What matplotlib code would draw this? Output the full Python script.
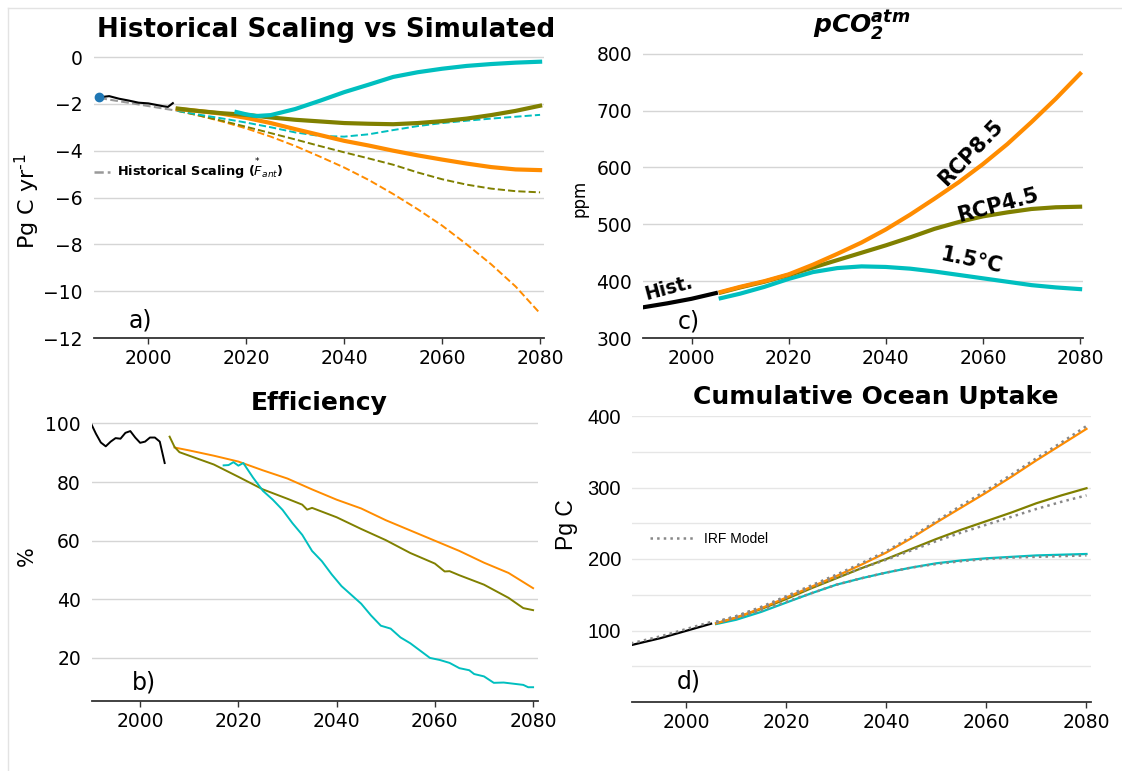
import matplotlib
matplotlib.use('Agg')
import matplotlib.pyplot as plt
from matplotlib.lines import Line2D

# ---- colours
ORANGE = '#ff8c00'
OLIVE = '#808000'
CYAN = '#00bfbf'

# ---- a) ocean flux, Pg C / yr
flux_hist_years = [1990, 1992, 1994, 1996, 1998, 2000, 2002, 2003, 2004, 2005]
flux_hist = [-1.72, -1.67, -1.78, -1.86, -1.95, -1.98, -2.06, -2.1, -2.13, -1.97]
scaling_hist_years = [1990, 2006]
scaling_hist = [-1.75, -2.3]
start_point = (1990, -1.72)

proj_years = [2006, 2010, 2015, 2020, 2025, 2030, 2035, 2040,
              2045, 2050, 2055, 2060, 2065, 2070, 2075, 2080]
flux_rcp45 = [-2.2, -2.3, -2.4, -2.47, -2.58, -2.68, -2.75, -2.82,
              -2.85, -2.87, -2.82, -2.74, -2.63, -2.48, -2.3, -2.08]
flux_rcp85 = [-2.22, -2.3, -2.42, -2.6, -2.82, -3.08, -3.33, -3.58,
              -3.78, -4.0, -4.2, -4.38, -4.55, -4.7, -4.8, -4.83]
flux_15_years = [2018, 2020, 2022, 2025, 2030, 2035, 2040, 2045,
                 2050, 2055, 2060, 2065, 2070, 2075, 2080]
flux_15 = [-2.35, -2.45, -2.52, -2.48, -2.22, -1.87, -1.5, -1.18,
           -0.85, -0.65, -0.5, -0.38, -0.3, -0.24, -0.2]
scal_rcp85 = [-2.3, -2.48, -2.75, -3.05, -3.4, -3.8, -4.25, -4.72,
              -5.25, -5.85, -6.5, -7.2, -8.0, -8.85, -9.8, -10.95]
scal_rcp45 = [-2.3, -2.48, -2.72, -2.98, -3.25, -3.52, -3.8, -4.07,
              -4.33, -4.6, -4.93, -5.22, -5.45, -5.62, -5.73, -5.78]
scal_15 = [-2.3, -2.45, -2.62, -2.8, -3.0, -3.22, -3.37, -3.4,
           -3.3, -3.12, -2.95, -2.82, -2.72, -2.63, -2.55, -2.47]

# ---- c) atmospheric pCO2, ppm
pco2_hist_years = [1990, 1995, 2000, 2005]
pco2_hist = [354, 361, 369, 379]
pco2_rcp85 = [381, 390, 400, 412, 429, 448, 468, 491,
              517, 545, 574, 606, 641, 680, 721, 765]
pco2_rcp45 = [380, 389, 399, 411, 424, 437, 450, 463,
              477, 492, 504, 514, 521, 527, 530, 531]
pco2_15 = [370, 378, 390, 404, 416, 423, 426, 425,
           422, 417, 411, 405, 399, 393, 389, 386]

# ---- b) efficiency, %
eff_hist_years = list(range(1990, 2006))
eff_hist = [100, 96.5, 93.5, 92.2, 93.8, 95, 94.8, 96.8,
            97.4, 95.2, 93.4, 93.8, 95.2, 95.2, 93.8, 86.5]
eff_rcp45_years = [2006, 2007, 2008, 2010, 2015, 2020, 2025, 2030, 2033,
                   2034, 2035, 2040, 2045, 2050, 2055, 2060, 2062, 2063,
                   2065, 2070, 2075, 2078, 2080]
eff_rcp45 = [95.5, 92, 90.2, 89, 86, 81.8, 77.5, 74.3, 72.3,
             70.6, 71.2, 68, 64, 60.2, 55.8, 52.2, 49.5, 49.6,
             48.2, 45, 40.5, 37, 36.3]
eff_rcp85_years = [2007, 2010, 2015, 2020, 2025, 2030, 2035, 2040,
                   2045, 2050, 2055, 2060, 2065, 2070, 2075, 2080]
eff_rcp85 = [91.8, 90.8, 89, 87, 84, 81.2, 77.5, 74,
             71, 67, 63.5, 60, 56.5, 52.5, 49, 43.8]
eff_15_years = [2017, 2018, 2019, 2020, 2021, 2022, 2023, 2025, 2027, 2029,
                2031, 2033, 2035, 2037, 2039, 2041, 2043, 2045, 2047, 2049,
                2051, 2053, 2055, 2057, 2059, 2061, 2063, 2065, 2067, 2068,
                2070, 2072, 2074, 2076, 2078, 2079, 2080]
eff_15 = [85.7, 85.8, 86.8, 85.6, 86.5, 84, 81.5, 77, 74, 70.5,
          66, 62, 56.5, 53, 48.5, 44.5, 41.5, 38.5, 34.5, 31,
          30, 27, 25, 22.5, 20, 19.3, 18.3, 16.5, 15.8, 14.5,
          13.7, 11.5, 11.6, 11.2, 10.8, 10, 10]

# ---- d) cumulative ocean uptake, Pg C
cum_hist_years = [1989, 1995, 2000, 2005]
cum_hist = [79.5, 89.5, 99.5, 109.5]
irf_hist = [82, 92, 102, 112]
cum_rcp85 = [110, 118, 131, 146, 161, 176, 192, 209,
             229, 251, 272, 293, 315, 338, 360, 382]
cum_rcp45 = [110, 118, 130, 144, 159, 173, 187, 200,
             214, 228, 241, 253, 265, 278, 289, 299]
cum_15 = [109, 115, 126, 139, 152, 164, 173, 181,
          188, 194, 198, 201, 203, 205, 206, 207]
irf_rcp85 = [112, 120, 133, 148, 163, 178, 194, 211,
             231, 253, 275, 296, 318, 341, 363, 386]
irf_rcp45 = [112, 120, 132, 146, 160, 174, 187, 199,
             212, 225, 237, 248, 259, 270, 280, 289]
irf_15 = [111, 117, 128, 140, 152, 164, 173, 181,
          188, 193, 197, 200, 202, 203, 204, 205]

W, H = 1122, 771
fig = plt.figure(figsize=(W / 100, H / 100), dpi=100)


def px_axes(left, top, right, bottom):
    return fig.add_axes([left / W, 1 - bottom / H, (right - left) / W, (bottom - top) / H])


def style(ax, yticks, grid_color='#d5d5d5'):
    for s in ('left', 'right', 'top'):
        ax.spines[s].set_visible(False)
    ax.spines['bottom'].set_color('#333333')
    ax.spines['bottom'].set_linewidth(1.3)
    ax.set_yticks(yticks)
    ax.set_xticks([2000, 2020, 2040, 2060, 2080])
    ax.tick_params(axis='y', length=0, pad=8, labelsize=13.5)
    ax.tick_params(axis='x', length=4, width=1, color='#333333', pad=4, labelsize=13.5)
    ax.grid(axis='y', color=grid_color, lw=1)
    ax.set_axisbelow(True)


# faint frame of the composite
fig.add_artist(Line2D([8 / W, 8 / W], [0, 1 - 8 / H], color='#e3e3e3', lw=1))
fig.add_artist(Line2D([8 / W, 1], [1 - 8 / H, 1 - 8 / H], color='#e3e3e3', lw=1))

# ================= a)
ax = px_axes(94, 50, 544, 338)
style(ax, [0, -2, -4, -6, -8, -10, -12])
ax.set_xlim(1988.9, 2080.8)
ax.set_ylim(-12, 0.3)
ax.plot(scaling_hist_years, scaling_hist, color='#999999', ls='--', lw=1.5)
ax.plot(flux_hist_years, flux_hist, color='black', lw=1.5)
ax.plot(*start_point, 'o', color='#1f77b4', ms=6)
ax.plot(proj_years, scal_rcp85, color=ORANGE, ls='--', lw=1.4)
ax.plot(proj_years, scal_rcp45, color=OLIVE, ls='--', lw=1.4)
ax.plot(proj_years, scal_15, color=CYAN, ls='--', lw=1.4)
ax.plot(proj_years, flux_rcp85, color=ORANGE, lw=3)
ax.plot(proj_years, flux_rcp45, color=OLIVE, lw=3)
ax.plot(flux_15_years, flux_15, color=CYAN, lw=3)
ax.set_ylabel('Pg C yr$^{\u20101}$', fontsize=16)
ax.yaxis.set_label_coords(-0.116, 0.476)
ax.text(0.102, 0.062, 'a)', transform=ax.transAxes, fontsize=17, ha='center', va='center')
ax.legend(handles=[Line2D([], [], color='#999999', ls='--', lw=1.8)],
          labels=[r'Historical Scaling ($\overset{*}{F}_{ant}$)'],
          loc='center left', bbox_to_anchor=(0.0, 0.587), frameon=False,
          borderpad=0, borderaxespad=0, handlelength=1.2, handletextpad=0.6,
          prop={'weight': 'bold', 'size': 9.3})
fig.text(97 / W, 1 - 37 / H, 'Historical Scaling vs Simulated', fontsize=18.8,
         fontweight='bold', va='baseline', ha='left')

# ================= c)
ax = px_axes(643, 47, 1083, 338)
style(ax, [300, 400, 500, 600, 700, 800])
ax.set_xlim(1990, 2080.6)
ax.set_ylim(300, 812)
ax.plot(pco2_hist_years, pco2_hist, color='black', lw=3)
ax.plot(proj_years, pco2_15, color=CYAN, lw=3)
ax.plot(proj_years, pco2_rcp45, color=OLIVE, lw=3)
ax.plot(proj_years, pco2_rcp85, color=ORANGE, lw=3)
ax.set_ylabel('ppm', fontsize=12)
ax.yaxis.set_label_coords(-0.125, 0.48)
lab = dict(fontsize=15, fontweight='bold', ha='center', va='center')
ax.text(2057.6, 626, 'RCP8.5', rotation=46, **lab)
ax.text(2063.1, 534, 'RCP4.5', rotation=15, **lab)
ax.text(2057.6, 436, '1.5°C', rotation=-12, **lab)
ax.text(1995.3, 388, 'Hist.', rotation=15, fontsize=13.5, fontweight='bold',
        ha='center', va='center')
ax.text(0.105, 0.055, 'c)', transform=ax.transAxes, fontsize=17, ha='center', va='center')
fig.text(862 / W, 1 - 33 / H, r'$\mathbfit{pCO}_{\mathbfit{2}}^{\mathbfit{atm}}$',
         fontsize=18, ha='center', va='baseline')

# ================= b)
ax = px_axes(92, 422, 538, 701)
style(ax, [20, 40, 60, 80, 100])
ax.set_xlim(1990.2, 2081)
ax.set_ylim(5.3, 100.5)
ax.plot(eff_hist_years, eff_hist, color='black', lw=1.4)
ax.plot(eff_rcp85_years, eff_rcp85, color=ORANGE, lw=1.4)
ax.plot(eff_rcp45_years, eff_rcp45, color=OLIVE, lw=1.4)
ax.plot(eff_15_years, eff_15, color=CYAN, lw=1.4)
ax.set_ylabel('%', fontsize=15)
ax.yaxis.set_label_coords(-0.123, 0.52)
ax.text(0.117, 0.068, 'b)', transform=ax.transAxes, fontsize=17, ha='center', va='center')
fig.text(319 / W, 1 - 410 / H, 'Efficiency', fontsize=18, fontweight='bold',
         ha='center', va='baseline')

# ================= d)
ax = px_axes(632, 416, 1091, 702)
style(ax, [100, 200, 300, 400], grid_color='#e6e6e6')
ax.set_yticks([50, 150, 250, 350], minor=True)
ax.grid(axis='y', which='minor', color='#e6e6e6', lw=1)
ax.tick_params(axis='y', which='minor', length=0)
for t in ax.get_yticklabels():
    t.set_fontfamily('Liberation Sans')
    t.set_fontsize(14.5)
ax.set_xlim(1989.2, 2080.9)
ax.set_ylim(0, 400)
ax.plot(cum_hist_years, cum_hist, color='black', lw=1.6)
ax.plot(proj_years, cum_15, color=CYAN, lw=1.6)
ax.plot(proj_years, cum_rcp45, color=OLIVE, lw=1.6)
ax.plot(proj_years, cum_rcp85, color=ORANGE, lw=1.6)
dot = dict(color='#888888', ls=':', lw=1.8)
ax.plot(cum_hist_years, irf_hist, **dot)
ax.plot(proj_years, irf_15, **dot)
ax.plot(proj_years, irf_rcp45, **dot)
ax.plot(proj_years, irf_rcp85, **dot)
ax.set_ylabel('Pg C', fontsize=16.5, fontfamily='Liberation Sans')
ax.yaxis.set_label_coords(-0.118, 0.619)
ax.text(0.124, 0.07, 'd)', transform=ax.transAxes, fontsize=17, ha='center', va='center')
ax.legend(handles=[Line2D([], [], **dot)], labels=['IRF Model'],
          loc='center left', bbox_to_anchor=(0.039, 0.57), frameon=False,
          borderpad=0, borderaxespad=0, handlelength=3.3, handletextpad=0.6,
          prop={'size': 10, 'family': 'Liberation Sans'})
fig.text(876 / W, 1 - 404 / H, 'Cumulative Ocean Uptake', fontsize=18, fontweight='bold',
         ha='center', va='baseline')

fig.savefig('out.png', dpi=100, facecolor='white')
